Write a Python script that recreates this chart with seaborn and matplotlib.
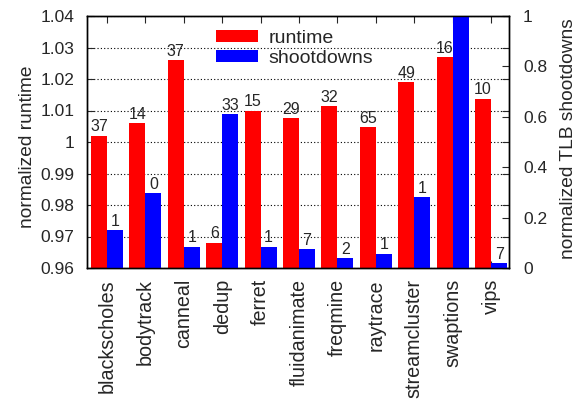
import matplotlib
matplotlib.use("Agg")
import matplotlib.pyplot as plt
from matplotlib.patches import Patch, Rectangle
import seaborn as sns
import pandas as pd

benchmarks = ["blackscholes", "bodytrack", "canneal", "dedup", "ferret",
              "fluidanimate", "freqmine", "raytrace", "streamcluster",
              "swaptions", "vips"]
runtime = [1.002, 1.006, 1.026, 0.968, 1.010, 1.0075, 1.0113, 1.0047,
           1.019, 1.027, 1.0137]
shootdowns = [0.151, 0.298, 0.085, 0.611, 0.085, 0.074, 0.040, 0.056,
              0.282, 1.0, 0.019]
runtime_labels = ["37", "14", "37", "6", "15", "29", "32", "65", "49", "16", "10"]
shootdown_labels = ["1", "0", "1", "33", "1", "7", "2", "1", "1", "", "7"]

metrics = ["runtime", "shootdowns"]
colors = {"runtime": "#ff0000", "shootdowns": "#0000ff"}

rt_df = pd.DataFrame({"bench": benchmarks, "value": runtime, "metric": "runtime"})
sd_df = pd.DataFrame({"bench": benchmarks, "value": shootdowns, "metric": "shootdowns"})

sns.set_style("ticks")
plt.rcParams["font.family"] = ["Liberation Sans", "DejaVu Sans"]
TICK_FS = 12.5
XTICK_FS = 14.2
LABEL_FS = 13.8
LEGEND_FS = 14.0
VALUE_FS = 11.5

fig = plt.figure(figsize=(5.76, 4.0), dpi=100)
ax1 = fig.add_axes([0.151, 0.33, 0.733, 0.63])
ax2 = ax1.twinx()

common = dict(x="bench", y="value", hue="metric", hue_order=metrics,
              order=benchmarks, palette=colors, width=0.834, dodge=True,
              errorbar=None, legend=False, linewidth=0, saturation=1)
sns.barplot(data=rt_df, ax=ax1, **common)
sns.barplot(data=sd_df, ax=ax2, **common)


def label_bars(ax, labels):
    rects = [p for p in ax.patches
             if isinstance(p, Rectangle) and p.get_width() > 0]
    rects.sort(key=lambda r: r.get_x())
    for r, lab in zip(rects, labels):
        if lab:
            ax.annotate(lab, (r.get_x() + r.get_width() / 2, r.get_height()),
                        xytext=(0, 1), textcoords="offset points",
                        ha="center", va="bottom", fontsize=VALUE_FS,
                        annotation_clip=False)


ax1.set_xlim(-0.52, 10.47)
ax1.set_ylim(0.96, 1.04)
ax1.set_yticks([0.96, 0.97, 0.98, 0.99, 1.0, 1.01, 1.02, 1.03, 1.04])
ax1.set_yticklabels(["0.96", "0.97", "0.98", "0.99", "1", "1.01", "1.02", "1.03", "1.04"])
ax2.set_ylim(0, 1)
ax2.set_yticks([0, 0.2, 0.4, 0.6, 0.8, 1.0])
ax2.set_yticklabels(["0", "0.2", "0.4", "0.6", "0.8", "1"])

ax1.yaxis.grid(True, linestyle=(0, (1, 2)), color="black", linewidth=0.8)
ax1.set_axisbelow(True)

label_bars(ax1, runtime_labels)
label_bars(ax2, shootdown_labels)

ax1.set_xlabel("")
ax2.set_xlabel("")
ax1.set_ylabel("normalized runtime", fontsize=LABEL_FS)
ax2.set_ylabel("normalized TLB shootdowns", fontsize=LABEL_FS)
ax1.yaxis.set_label_coords(-0.12, 0.48)
ax2.yaxis.set_label_coords(1.12, 0.515)
ax1.set_xticks(range(len(benchmarks)))
ax1.set_xticklabels(benchmarks, rotation=90, fontsize=XTICK_FS, va="top")

ax1.tick_params(axis="x", direction="in", top=True, bottom=True, length=5, pad=8)
ax1.tick_params(axis="y", direction="in", left=True, right=True, length=5,
                pad=9, labelsize=TICK_FS, labelright=False)
ax2.tick_params(axis="y", direction="in", right=True, length=5, pad=10,
                labelsize=TICK_FS)

for ax in (ax1, ax2):
    for s in ax.spines.values():
        s.set_visible(True)
        s.set_linewidth(1.0)
        s.set_color("black")

handles = [Patch(facecolor=colors[m], edgecolor="none") for m in metrics]
fig.legend(handles, metrics, loc="upper left",
           bbox_to_anchor=(216 / 576, 1 - 30 / 400), frameon=False,
           fontsize=LEGEND_FS, handlelength=2.15, handleheight=0.56,
           handletextpad=0.56, borderpad=0, borderaxespad=0, labelspacing=0.15)

fig.savefig("out.png", dpi=100)
